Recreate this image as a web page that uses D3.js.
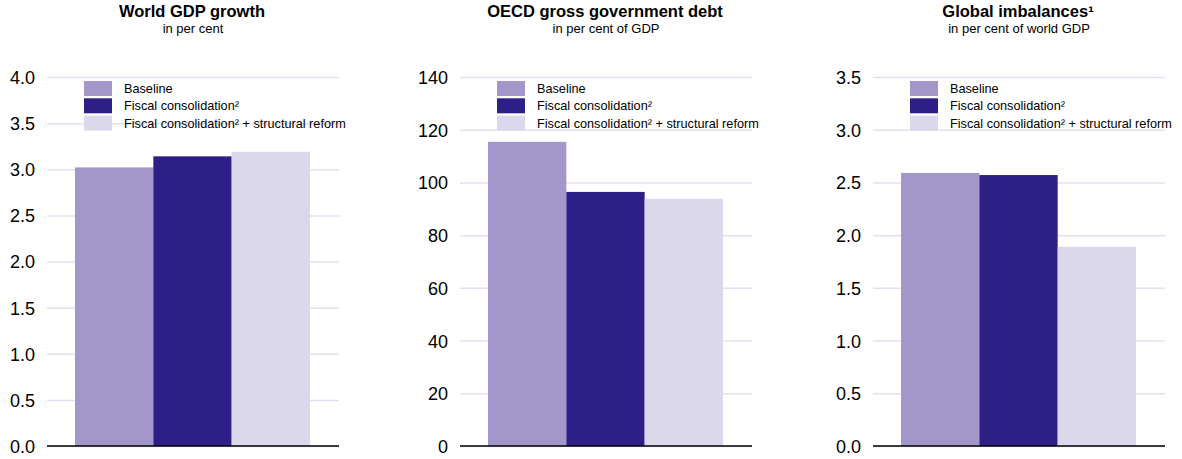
<!DOCTYPE html>
<html>
  <head>
    <meta charset="utf-8">
    <script type="text/javascript" src="https://cdn.jsdelivr.net/npm/d3@7"></script>
    <style>
      body { margin: 0; background: #fff; }
      text { font-family: "Liberation Sans", Arial, sans-serif; fill: #000; }
      .grid { stroke: #e3e0f0; stroke-width: 1.5; }
      .base { stroke: #000; stroke-width: 1.5; }
    </style>
  </head>
  <body>
    <script type="text/javascript">
      WIDTH = 1182
      HEIGHT = 459

      // series and colours
      var seriesNames = ["Baseline", "Fiscal consolidation\u00b2", "Fiscal consolidation\u00b2 + structural reform"]
      var seriesColors = ["#a396c8", "#2e1f86", "#dcd8ec"]

      // panel titles
      var titles = ["World GDP growth", "OECD gross government debt", "Global imbalances\u00b9"]
      var subtitles = ["in per cent", "in per cent of GDP", "in per cent of world GDP"]

      // values
      var gdpGrowth = [3.02, 3.14, 3.19]
      var govDebt = [115.4, 96.4, 93.8]
      var imbalances = [2.59, 2.57, 1.89]

      // tick labels
      var gdpTicks = [0, 0.5, 1, 1.5, 2, 2.5, 3, 3.5, 4]
      var debtTicks = [0, 20, 40, 60, 80, 100, 120, 140]
      var imbTicks = [0, 0.5, 1, 1.5, 2, 2.5, 3, 3.5]

      var panels = [
        {title: titles[0], sub: subtitles[0], values: gdpGrowth, ticks: gdpTicks, fmt: d3.format(".1f")},
        {title: titles[1], sub: subtitles[1], values: govDebt, ticks: debtTicks, fmt: d3.format("d")},
        {title: titles[2], sub: subtitles[2], values: imbalances, ticks: imbTicks, fmt: d3.format(".1f")}
      ]

      var svg = d3.select("body").append("svg")
        .attr("width", WIDTH)
        .attr("height", HEIGHT)

      var PLOTW = 292
      var TOP = 77
      var BOTTOM = 446

      panels.forEach(function(p, k) {
        var x0 = 47 + k * 413
        var g = svg.append("g").attr("transform", "translate(" + x0 + ",0)")

        var y = d3.scaleLinear()
          .domain([0, d3.max(p.ticks)])
          .range([BOTTOM, TOP])
        var x = d3.scaleBand()
          .domain(seriesNames)
          .range([28, 263])
          .padding(0)

        // titles (bold heading, small subtitle underneath)
        g.append("text")
          .attr("x", 145).attr("y", 17)
          .attr("text-anchor", "middle")
          .style("font-weight", "bold").style("font-size", "16.5px")
          .text(p.title)
        g.append("text")
          .attr("x", 146).attr("y", 32.5)
          .attr("text-anchor", "middle")
          .style("font-size", "13px")
          .text(p.sub)

        // gridlines and y labels
        var axis = d3.axisLeft(y).tickValues(p.ticks).tickFormat(p.fmt)
          .tickSize(-PLOTW).tickPadding(12)
        var ax = g.append("g").call(axis)
        ax.select(".domain").remove()
        ax.selectAll(".tick line").attr("class", "grid").attr("stroke", null)
        ax.selectAll(".tick text").style("font-size", "18px")
          .style("font-family", "'Liberation Sans', Arial, sans-serif")
          .attr("dy", "0.36em")

        // bars
        g.selectAll("rect.bar").data(p.values).enter()
          .append("rect").attr("class", "bar")
          .attr("x", function(d, i) { return x(seriesNames[i]) })
          .attr("width", x.bandwidth())
          .attr("y", function(d) { return y(d) })
          .attr("height", function(d) { return BOTTOM - y(d) })
          .attr("fill", function(d, i) { return seriesColors[i] })

        // zero line
        g.append("line").attr("class", "base")
          .attr("x1", 0).attr("x2", PLOTW)
          .attr("y1", y(0)).attr("y2", y(0))

        // legend
        var leg = g.append("g").attr("transform", "translate(37,81)")
        seriesNames.forEach(function(name, i) {
          leg.append("rect")
            .attr("x", 0).attr("y", i * 17.3)
            .attr("width", 28).attr("height", 15)
            .attr("fill", seriesColors[i])
          leg.append("text")
            .attr("x", 40).attr("y", i * 17.3 + 12)
            .style("font-size", "12.7px")
            .text(name)
        })
      })
    </script>
  </body>
</html>
